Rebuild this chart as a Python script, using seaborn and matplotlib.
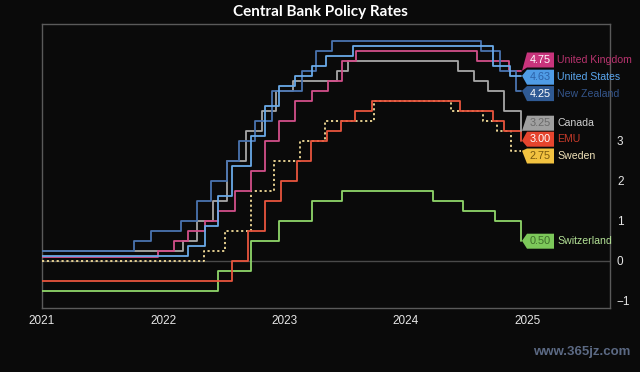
import matplotlib
matplotlib.use("Agg")
import matplotlib.pyplot as plt
import matplotlib.dates as mdates
from matplotlib.patches import Polygon
import seaborn as sns
import pandas as pd

# ---------------- data ----------------
start = "2021-01-01"
end = "2024-12-13"

us_dates = [start, "2022-03-17", "2022-05-05", "2022-06-16", "2022-07-28", "2022-09-22",
            "2022-11-03", "2022-12-15", "2023-02-02", "2023-03-23", "2023-05-04",
            "2023-07-27", "2024-09-19", "2024-11-08"]
us_rates = [0.125, 0.375, 0.875, 1.625, 2.375, 3.125, 3.875, 4.375, 4.625, 4.875, 5.125,
            5.375, 4.875, 4.625]

uk_dates = [start, "2021-12-16", "2022-02-03", "2022-03-17", "2022-05-05", "2022-06-16",
            "2022-08-04", "2022-09-22", "2022-11-03", "2022-12-15", "2023-02-02",
            "2023-03-23", "2023-05-11", "2023-06-22", "2023-08-03", "2024-08-01", "2024-11-07"]
uk_rates = [0.10, 0.25, 0.50, 0.75, 1.00, 1.25, 1.75, 2.25, 3.00, 3.50, 4.00, 4.25, 4.50,
            5.00, 5.25, 5.00, 4.75]

nz_dates = [start, "2021-10-06", "2021-11-24", "2022-02-23", "2022-04-13", "2022-05-25",
            "2022-07-13", "2022-08-17", "2022-10-05", "2022-11-23", "2023-02-22",
            "2023-04-05", "2023-05-24", "2024-08-14", "2024-10-09", "2024-11-27"]
nz_rates = [0.25, 0.50, 0.75, 1.00, 1.50, 2.00, 2.50, 3.00, 3.50, 4.25, 4.75, 5.25, 5.50,
            5.25, 4.75, 4.25]

ca_dates = [start, "2022-03-02", "2022-04-13", "2022-06-01", "2022-07-13", "2022-09-07",
            "2022-10-26", "2022-12-07", "2023-01-25", "2023-06-07", "2023-07-12",
            "2024-06-05", "2024-07-24", "2024-09-04", "2024-10-23", "2024-12-11"]
ca_rates = [0.25, 0.50, 1.00, 1.50, 2.50, 3.25, 3.75, 4.25, 4.50, 4.75, 5.00, 4.75, 4.50,
            4.25, 3.75, 3.25]

emu_dates = [start, "2022-07-27", "2022-09-14", "2022-11-02", "2022-12-21", "2023-02-08",
             "2023-03-22", "2023-05-10", "2023-06-21", "2023-08-02", "2023-09-20",
             "2024-06-12", "2024-09-18", "2024-10-23", "2024-12-12"]
emu_rates = [-0.50, 0.00, 0.75, 1.50, 2.00, 2.50, 3.00, 3.25, 3.50, 3.75, 4.00, 3.75, 3.50,
             3.25, 3.00]

se_dates = [start, "2022-05-04", "2022-07-06", "2022-09-21", "2022-11-30", "2023-02-15",
            "2023-05-03", "2023-09-27", "2024-05-15", "2024-08-21", "2024-10-02", "2024-11-13"]
se_rates = [0.00, 0.25, 0.75, 1.75, 2.50, 3.00, 3.50, 4.00, 3.75, 3.50, 3.25, 2.75]

ch_dates = [start, "2022-06-16", "2022-09-22", "2022-12-15", "2023-03-23", "2023-06-22",
            "2024-03-21", "2024-06-20", "2024-09-26", "2024-12-12"]
ch_rates = [-0.75, -0.25, 0.50, 1.00, 1.50, 1.75, 1.50, 1.25, 1.00, 0.50]

names = ["United Kingdom", "United States", "New Zealand", "Canada", "EMU", "Sweden", "Switzerland"]
value_labels = ["4.75", "4.63", "4.25", "3.25", "3.00", "2.75", "0.50"]
series_dates = [uk_dates, us_dates, nz_dates, ca_dates, emu_dates, se_dates, ch_dates]
series_rates = [uk_rates, us_rates, nz_rates, ca_rates, emu_rates, se_rates, ch_rates]

year_ticks = ["2021", "2022", "2023", "2024", "2025"]
y_ticks = [-1, 0, 1, 2, 3]

# ---------------- styles ----------------
line_colors = ["#d24f8a", "#6aaae8", "#4a74b0", "#a8a8a8", "#e8553d", "#f3dc98", "#8fd66a"]
line_styles = ["-", "-", "-", "-", "-", (0, (1.2, 1.5)), "-"]
box_colors = ["#c8347c", "#4f9ce6", "#2f5a94", "#a0a0a0", "#e6452e", "#f2c240", "#7cc85a"]
box_text_colors = ["#ffffff", "#2d62a8", "#ffffff", "#6a6a6a", "#ffffff", "#7a5a10", "#3e6e2a"]
name_colors = ["#b8336e", "#5aa6ee", "#34558a", "#d0d0d0", "#c83a2a", "#f0e2b8", "#b4e296"]
# label box centres (data y) laid out to avoid overlap
box_y = [5.02, 4.59, 4.18, 3.44, 3.04, 2.62, 0.49]

bg = "#0a0a0a"
W, H = 640, 372

sns.set_theme(style="dark")
plt.rcParams["font.family"] = ["Liberation Sans", "DejaVu Sans"]

fig = plt.figure(figsize=(W / 100, H / 100), dpi=100, facecolor=bg)
ax = fig.add_axes([42 / W, 1 - 308 / H, (610 - 42) / W, (308 - 24) / H])
ax.set_facecolor(bg)

frames = []
for n, d, r in zip(names, series_dates, series_rates):
    frames.append(pd.DataFrame({"date": pd.to_datetime(d + [end]), "rate": r + [r[-1]], "bank": n}))
df = pd.concat(frames, ignore_index=True)

ax.axhline(0, color="#4a4a4a", lw=1.0, zorder=1)

draw_order = [6, 5, 4, 3, 0, 2, 1]
for i in draw_order:
    sub = df[df["bank"] == names[i]]
    sns.lineplot(data=sub, x="date", y="rate", ax=ax, color=line_colors[i],
                 drawstyle="steps-post", lw=1.3, linestyle=line_styles[i],
                 legend=False, zorder=3, estimator=None)

ax.set_xlim(pd.Timestamp("2021-01-01"), pd.Timestamp("2025-09-06"))
ax.set_ylim(-1.18, 5.92)

ax.set_xticks([pd.Timestamp(f"{y}-01-01") for y in year_ticks])
ax.set_xticklabels(year_ticks)
ax.set_yticks(y_ticks)
ax.set_yticklabels([str(v).replace("-", "\u2212") for v in y_ticks])
ax.yaxis.tick_right()
ax.tick_params(axis="both", colors="#e6e6e6", labelsize=8.5, length=0)
ax.tick_params(axis="x", pad=5)
ax.tick_params(axis="y", pad=5)
ax.set_xlabel("")
ax.set_ylabel("")
ax.grid(False)
for s in ax.spines.values():
    s.set_visible(True)
    s.set_color("#5a5a5a")
    s.set_linewidth(1.0)

# ---------------- end labels ----------------
end_num = mdates.date2num(pd.Timestamp(end))
x0_px, x1_px, half_h = 527, 554, 7.5
for i in range(len(names)):
    tip = ax.transData.transform((end_num, series_rates[i][-1]))
    yc = ax.transData.transform((end_num, box_y[i]))[1]
    tx, ty = tip[0] + 1, tip[1]
    top, bot = yc + half_h, yc - half_h
    ty_c = min(max(ty, bot - 4), top + 4)
    pts = [(x1_px, top), (x1_px, bot), (x0_px, bot), (x0_px - 5, ty_c), (x0_px, top)]
    pts = [(px / W, py / H) for px, py in pts]
    fig.add_artist(Polygon(pts, closed=True, transform=fig.transFigure,
                           facecolor=box_colors[i], edgecolor="none", zorder=5))
    fig.text((x0_px + x1_px) / 2 / W, yc / H, value_labels[i], ha="center", va="center",
             fontsize=7.8, color=box_text_colors[i], zorder=6)
    fig.text((x1_px + 3) / W, yc / H, names[i], ha="left", va="center",
             fontsize=7.6, color=name_colors[i], zorder=6)

fig.text(0.5, 1 - 12 / H, "Central Bank Policy Rates", ha="center", va="center",
         fontsize=11, color="white", fontweight="bold",
         family=["Lato", "DejaVu Sans"])

fig.text(1 - 10 / W, 1 - 352 / H, "www.365jz.com", ha="right", va="center",
         fontsize=9.5, color="#9fb8e8", alpha=0.55, fontweight="bold")

fig.savefig("out.png", dpi=100, facecolor=bg)
